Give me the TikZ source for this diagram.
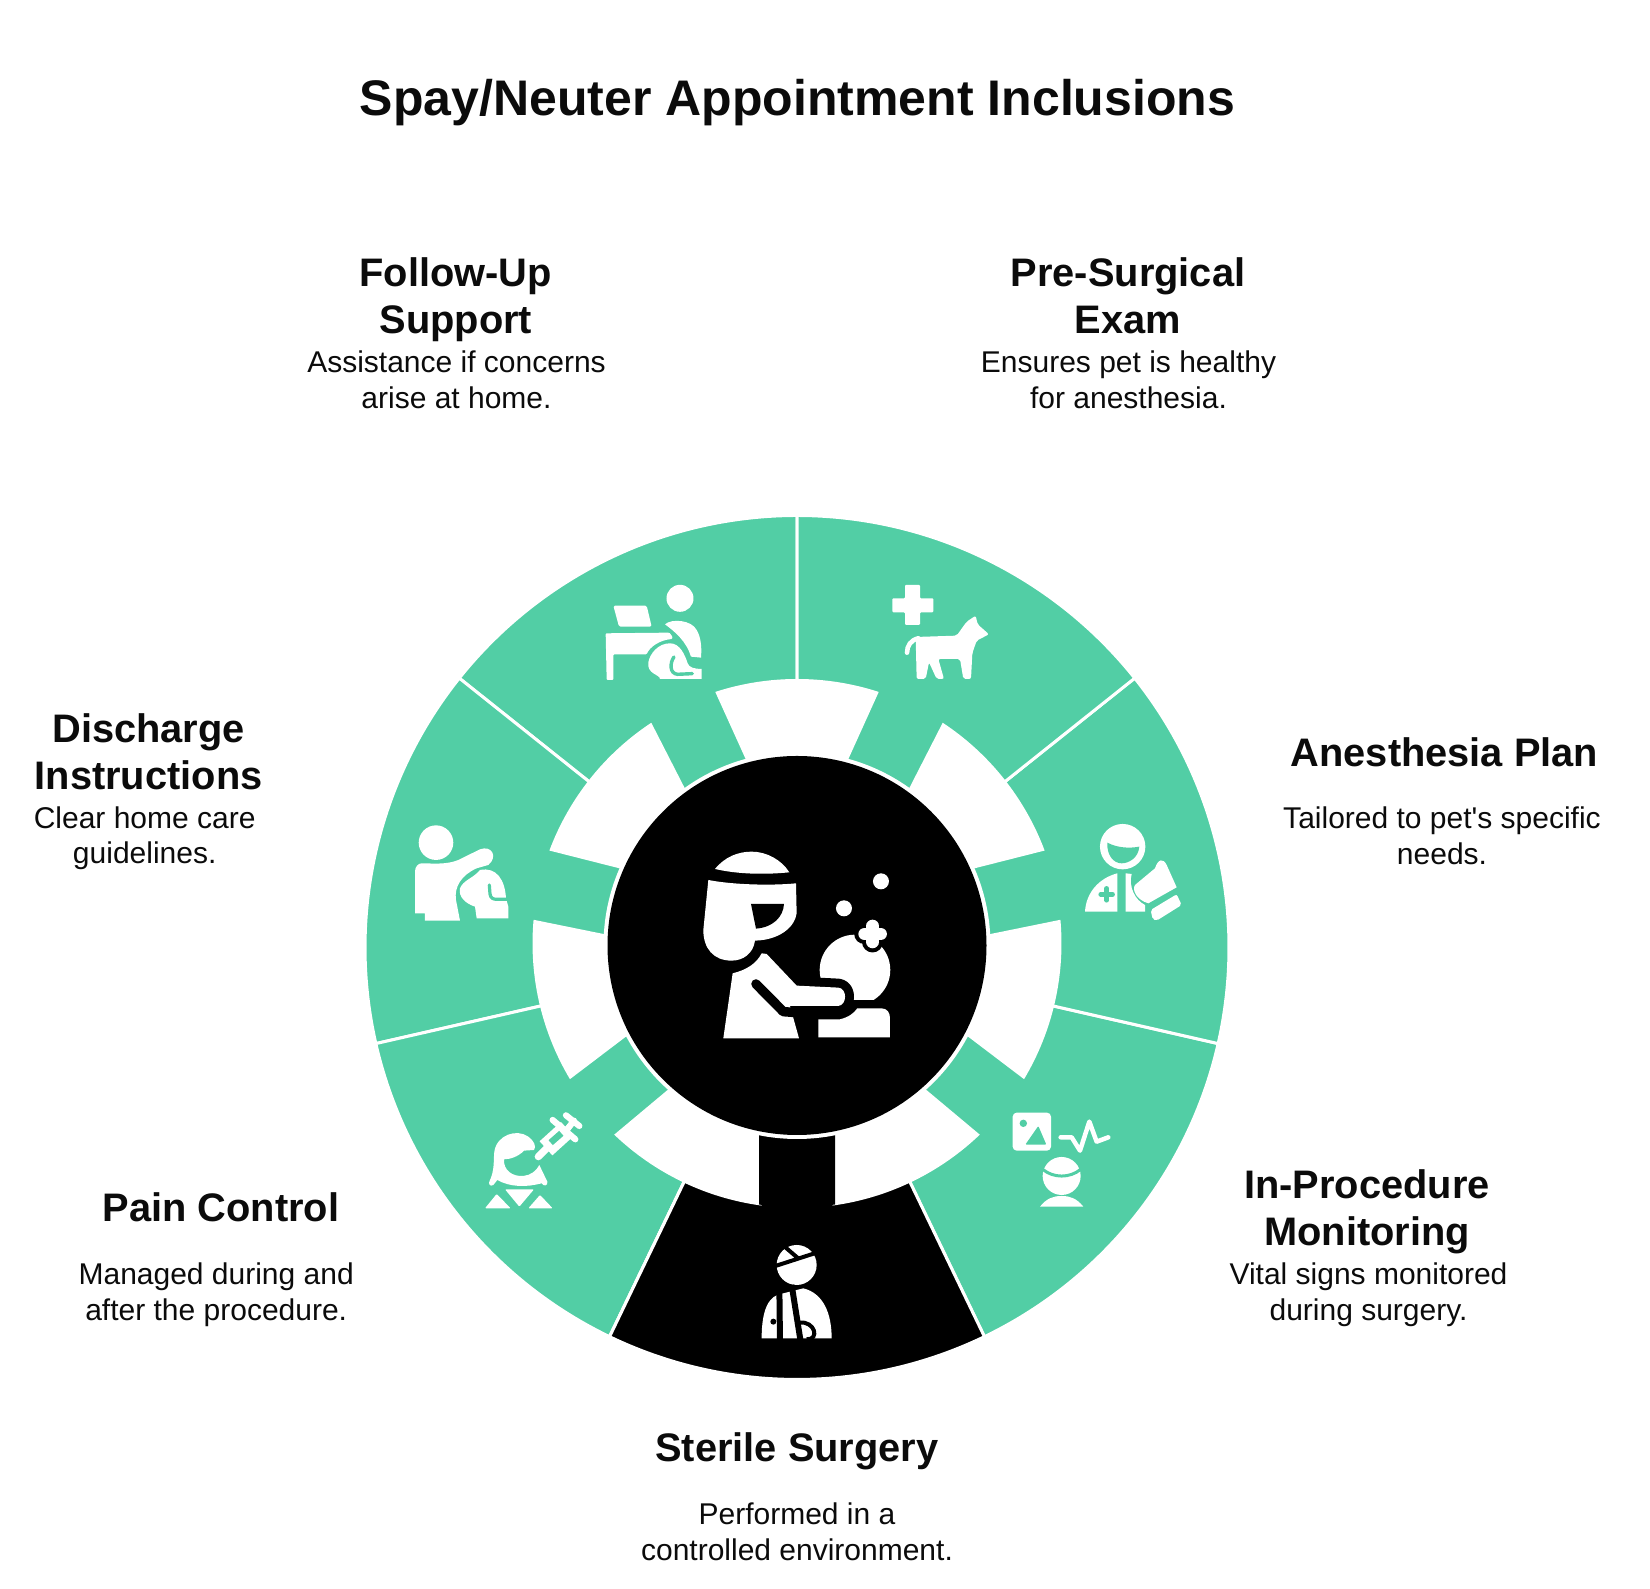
\documentclass[tikz,border=0pt]{standalone}
\usepackage{fontspec}
\setmainfont{Liberation Sans}
\newfontfamily\plainfont{Liberation Sans}
\definecolor{wheelgreen}{HTML}{52CEA5}
\definecolor{ink}{HTML}{0B0B0B}
\tikzset{
  titletext/.style={font=\fontsize{50}{60}\selectfont\bfseries,text=ink,inner sep=0pt,align=center,yshift=-3.6pt},
  headtext/.style={font=\fontsize{39.8}{47.4}\selectfont\bfseries,text=ink,inner sep=0pt,align=center,yshift=-4.7pt},
  desctext/.style={font=\fontsize{30}{35.8}\selectfont,text=ink,inner sep=0pt,align=center,yshift=-3.6pt},
  sectorfill/.style={fill=wheelgreen,draw=white,line width=3pt,line join=miter},
  blackfill/.style={fill=black,draw=white,line width=3pt},
  paper/.style={fill=white,draw=none},
  zoomthree/.style={x=0.3333pt,y=-0.3333pt},
}
\newcommand{\wheelR}{432}
\begin{document}
\begin{tikzpicture}[x=1pt,y=1pt]
\useasboundingbox[fill=white] (0,0) rectangle (1650,1589);
% ---- wheel: outer disc ----
\begin{scope}[shift={(797,641.5)}]
  \foreach \k in {0,1,2,3,4,5,6}{
    \pgfmathsetmacro{\aa}{90+\k*51.4286}
    \pgfmathsetmacro{\bb}{\aa+51.4286}
    \fill[sectorfill] (0,0) -- (\aa:\wheelR) arc[start angle=\aa,end angle=\bb,radius=\wheelR] -- cycle;
  }
  \fill[blackfill] (0,0) -- (-115.714:\wheelR) arc[start angle=-115.714,end angle=-64.286,radius=\wheelR] -- cycle;
\end{scope}
% ---- wheel: inner ring ----
\begin{scope}[shift={(797,645.5)}]
  \foreach \k in {0,1,2,3,4,5,6}{
    \pgfmathsetmacro{\cc}{90+\k*51.4286}
    \fill[paper] ({\cc-15.3}:186) -- ({\cc-18}:264.5) arc[start angle={\cc-18},end angle={\cc+18},radius=264.5] -- ({\cc+15.3}:186) arc[start angle={\cc+15.3},end angle={\cc-15.3},radius=186] -- cycle;
  }
  \fill[black] (-38,-261) -- (-38,-120) -- (38,-120) -- (38,-261) arc[start angle=-81.7,end angle=-98.3,radius=264] -- cycle;
\end{scope}
% ---- wheel: hub ----
\begin{scope}[shift={(797,643.5)}]
  \fill[paper] (0,0) circle[radius=193.5];
  \fill[black] (0,0) circle[radius=189.5];
\end{scope}
% ---- texts ----
\begin{scope}[shift={(0,1589)},y=-1pt]
  \node[titletext] (title) at (797.5,99) {Spay/Neuter Appointment Inclusions};
  \node[headtext] (h1) at (1128,295.7) {\strut Pre-Surgical\\\strut Exam};
  \node[desctext] (d1) at (1128.5,379.9) {\strut Ensures pet is healthy\\\strut for anesthesia.};
  \node[headtext] (h2) at (1444.5,751.9) {\strut Anesthesia Plan};
  \node[desctext] (d2) at (1442,835.5) {\strut Tailored to pet{\plainfont '}s specific\\\strut needs.};
  \node[headtext] (h3) at (1367,1207.6) {\strut In-Procedure\\\strut Monitoring};
  \node[desctext] (d3) at (1368.5,1291.6) {\strut Vital signs monitored\\\strut during surgery.};
  \node[headtext] (h4) at (797,1447.5) {\strut Sterile Surgery};
  \node[desctext] (d4) at (797,1531.8) {\strut Performed in a\\\strut controlled environment.};
  \node[headtext] (h5) at (221,1207.5) {\strut Pain Control};
  \node[desctext] (d5) at (216.2,1291.6) {\strut Managed during and\\\strut after the procedure.};
  \node[headtext] (h6) at (148.6,751.9) {\strut Discharge\\\strut Instructions};
  \node[desctext] (d6) at (144.7,835.2) {\strut Clear home care\\\strut guidelines.};
  \node[headtext] (h7) at (455.8,295.7) {\strut Follow-Up\\\strut Support};
  \node[desctext] (d7) at (456.5,379.9) {\strut Assistance if concerns\\\strut arise at home.};
\end{scope}
% ---- centre icon ----
\begin{scope}[shift={(650,769)},zoomthree]
  \fill[white] (615,450) circle[radius=35.3pt];
  \fill[black] (600,540) rectangle (730,566);
  \draw[black,line width=21pt,line cap=round] (668,318)--(668,366) (644,342)--(692,342);
  \draw[white,line width=12.6pt,line cap=round] (668,318)--(668,366) (644,342)--(692,342);
  \fill[white] (505,652) -- (505,598) -- (570,598) .. controls (595,592) and (612,580) .. (622,565) -- (695,565) .. controls (712,566) and (720,578) .. (720,595) -- (720,652) -- cycle;
  \path[preaction={draw=black,line width=18pt,line join=round},fill=white] (248,460) .. controls (290,450) and (320,430) .. (335,400) -- (350,402) -- (440,497) -- (565,503) .. controls (592,505) and (592,555) .. (565,558) -- (420,558) -- (447,655) -- (220,655) -- cycle;
  \draw[black,line width=9.5pt,line cap=round,line join=round] (318,492) -- (400,575) -- (440,578);
  \path[preaction={draw=black,line width=18pt},fill=white] (175,180) .. controls (250,195) and (370,197) .. (438,190) -- (440,280) .. controls (435,320) and (390,360) .. (315,362) .. controls (310,400) and (280,422) .. (245,422) .. controls (190,422) and (160,385) .. (160,330) -- cycle;
  \fill[white] (195,147) .. controls (225,110) and (265,95) .. (305,95) .. controls (350,95) and (395,120) .. (418,157) .. controls (340,165) and (260,162) .. (195,147) -- cycle;
  \fill[black] (303,252) -- (402,252) .. controls (400,290) and (370,322) .. (318,326) -- cycle;
  \fill[white] (693,184) circle[radius=8pt];
  \fill[white] (582,265) circle[radius=8pt];
\end{scope}
% ---- pre-surgical: dog and cross ----
\begin{scope}[shift={(885,1014)},zoomthree]
  \fill[white,rounded corners=1pt] (60,30) -- (105,30) -- (105,70) -- (145,70) -- (145,112) -- (105,112) -- (105,150) -- (60,150) -- (60,112) -- (22,112) -- (22,70) -- (60,70) -- cycle;
  \fill[white,rounded corners=2pt] (272,122) -- (278,148) -- (312,178) -- (275,197) -- (262,235) -- (258,312) -- (235,312) -- (225,252) -- (160,252) -- (177,312) -- (155,312) -- (132,262) -- (122,312) -- (95,312) -- (92,186) -- (215,182) -- (245,140) -- cycle;
  \draw[white,line width=4.6pt,line cap=round] (100,190) .. controls (78,195) and (66,212) .. (66,233);
\end{scope}
% ---- follow-up: desk, person, pet ----
\begin{scope}[shift={(595,1014)},zoomthree]
  \fill[white] (255,70) circle[radius=13.5pt];
  \fill[white,rounded corners=1.5pt] (55,92) -- (155,92) -- (170,155) -- (72,155) -- cycle;
  \fill[white,rounded corners=1pt] (32,175) -- (222,173) .. controls (232,180) and (232,188) .. (232,192) .. controls (195,195) and (165,215) .. (155,238) -- (55,238) -- (55,315) -- (35,315) -- cycle;
  \fill[white] (210,148) .. controls (230,130) and (290,135) .. (305,165) .. controls (320,190) and (320,225) .. (318,248) -- (288,245) .. controls (275,200) and (240,170) .. (210,148) -- cycle;
  \fill[white] (160,262) .. controls (165,235) and (190,205) .. (225,205) .. controls (255,205) and (270,240) .. (278,265) .. controls (282,278) and (300,282) .. (320,282) -- (320,312) -- (195,312) .. controls (195,298) and (155,298) .. (160,262) -- cycle;
  \draw[wheelgreen,line width=3.4pt,line cap=round] (237,246) .. controls (225,262) and (222,296) .. (248,298) -- (292,296);
\end{scope}
% ---- discharge ----
\begin{scope}[shift={(380,789)},zoomthree]
  \fill[white] (168,128) circle[radius=17.3pt];
  \fill[white] (125,190) .. controls (155,190) and (200,195) .. (235,180) -- (300,148) .. controls (335,135) and (355,170) .. (325,195) -- (290,205) .. controls (245,225) and (222,260) .. (228,300) -- (240,362) -- (135,362) -- (135,340) -- (105,340) -- (105,215) .. controls (105,200) and (115,190) .. (125,190) -- cycle;
  \fill[white] (240,265) .. controls (250,240) and (280,235) .. (300,210) .. controls (350,200) and (375,240) .. (378,295) -- (385,320) -- (385,355) -- (290,355) -- (285,320) .. controls (255,310) and (235,290) .. (240,265) -- cycle;
  \draw[wheelgreen,line width=3.2pt,line cap=round] (328,255) -- (330,282) .. controls (332,295) and (340,298) .. (350,298) -- (385,298);
\end{scope}
% ---- anesthesia ----
\begin{scope}[shift={(1060,789)},zoomthree]
  \fill[white] (188,140) circle[radius=22.7pt];
  \fill[wheelgreen] (142,128) .. controls (175,145) and (210,145) .. (238,140) .. controls (235,175) and (205,190) .. (185,190) .. controls (160,190) and (140,165) .. (142,128) -- cycle;
  \fill[white] (75,335) .. controls (78,280) and (115,235) .. (172,220) -- (172,335) -- cycle;
  \draw[wheelgreen,line width=4.5pt,line cap=round] (140,265)--(140,301) (122,283)--(158,283);
  \fill[white] (197,220) -- (215,222) .. controls (205,260) and (225,300) .. (255,315) -- (255,335) -- (197,335) -- cycle;
  \fill[white] (225,255) -- (285,205) .. controls (295,175) and (310,175) .. (320,195) -- (350,262) -- (265,310) .. controls (230,300) and (215,270) .. (225,255) -- cycle;
  \fill[white,rounded corners=2pt] (272,330) -- (350,283) -- (365,315) -- (290,362) -- (278,358) -- cycle;
\end{scope}
% ---- pain control ----
\begin{scope}[shift={(460,489)},zoomthree]
  \draw[white,line width=7.3pt,line cap=round] (235,170)--(265,140);
  \draw[white,line width=19pt] (258,145)--(322,87);
  \draw[wheelgreen,line width=6.5pt] (272,128)--(304,100);
  \draw[white,line width=6.2pt,line cap=round] (278,60)--(346,118) (320,90)--(342,62) (318,46)--(358,78);
  \fill[white] (88,245) .. controls (105,210) and (100,180) .. (103,155) .. controls (110,105) and (170,85) .. (205,110) .. controls (222,122) and (230,140) .. (222,150) -- (192,152) .. controls (175,170) and (150,178) .. (132,178) .. controls (130,212) and (158,230) .. (190,228) .. controls (212,226) and (230,212) .. (238,195) -- (262,245) .. controls (265,258) and (250,260) .. (245,250) .. controls (200,262) and (150,262) .. (112,240) -- (100,255) .. controls (90,262) and (85,250) .. (88,245) -- cycle;
  \fill[white,rounded corners=1pt] (135,268) -- (222,268) -- (178,320) -- cycle;
  \fill[white,rounded corners=1pt] (75,325) -- (110,282) -- (152,325) -- cycle;
  \fill[white,rounded corners=1pt] (205,325) -- (240,285) -- (278,325) -- cycle;
\end{scope}
% ---- monitoring ----
\begin{scope}[shift={(990,499)},zoomthree]
  \fill[white,rounded corners=4pt] (68,68) rectangle (183,182);
  \fill[wheelgreen] (100,100) circle[radius=3.7pt];
  \fill[wheelgreen,rounded corners=1pt] (106,164) -- (145,108) -- (169,164) -- cycle;
  \draw[white,line width=4.5pt,line cap=round,line join=round] (212,142) -- (245,142) -- (270,182) -- (298,95) -- (320,155) -- (355,142);
  \fill[white] (215,258) circle[radius=19pt];
  \draw[wheelgreen,line width=3pt] (158,238) .. controls (190,265) and (240,265) .. (272,238);
  \fill[white] (150,350) .. controls (170,325) and (190,318) .. (215,318) .. controls (240,318) and (260,325) .. (280,350) -- cycle;
\end{scope}
% ---- sterile surgery ----
\begin{scope}[shift={(740,359)},zoomthree]
  \fill[white] (170,105) circle[radius=20pt];
  \draw[black,line width=4pt] (100,110)--(230,68) (128,45)--(178,88);
  \fill[white] (65,325) .. controls (65,240) and (85,195) .. (130,190) -- (190,175) .. controls (250,190) and (275,250) .. (275,325) -- cycle;
  \draw[black,line width=6pt] (118,165)--(120,340) (155,165)--(182,335);
  \draw[black,line width=4pt] (178,278) .. controls (225,272) and (240,330) .. (200,328);
  \fill[black] (100,275) circle[radius=3pt];
\end{scope}
\end{tikzpicture}
\end{document}
